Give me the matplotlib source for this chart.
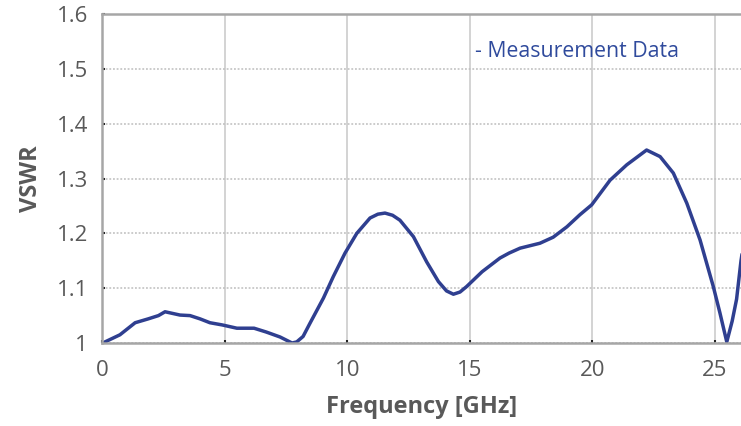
import numpy as np
import matplotlib
matplotlib.use("Agg")
import matplotlib.pyplot as plt

plt.rcParams['font.family'] = ['Open Sans', 'DejaVu Sans']

freq_ghz = [0.0, 0.12, 0.73, 1.35, 1.88, 2.3, 2.57, 3.18, 3.59, 4.0, 4.4, 4.9,
            5.5, 6.2, 6.7, 7.26, 7.75, 7.94, 8.2, 8.48, 9.03, 9.43, 9.91,
            10.39, 10.93, 11.25, 11.54, 11.85, 12.15, 12.7, 13.24, 13.72,
            14.05, 14.33, 14.6, 14.87, 15.5, 16.23, 16.6, 17.05, 17.86, 18.4,
            18.96, 19.49, 19.97, 20.72, 21.4, 21.94, 22.21, 22.76, 23.3, 23.85,
            24.39, 24.93, 25.2, 25.48, 25.7, 25.88, 26.06, 26.3]
vswr = [0.998, 1.002, 1.015, 1.037, 1.044, 1.050, 1.057, 1.051, 1.050, 1.044,
        1.037, 1.033, 1.027, 1.027, 1.020, 1.011, 1.000, 1.002, 1.012, 1.036,
        1.082, 1.121, 1.164, 1.200, 1.228, 1.235, 1.237, 1.233, 1.224, 1.194,
        1.148, 1.112, 1.095, 1.089, 1.093, 1.103, 1.130, 1.155, 1.164, 1.173,
        1.182, 1.193, 1.212, 1.234, 1.252, 1.297, 1.325, 1.343, 1.352, 1.340,
        1.310, 1.255, 1.188, 1.103, 1.055, 1.002, 1.040, 1.080, 1.150, 1.22]

x_ticks = [0, 5, 10, 15, 20, 25]
y_ticks = [1.0, 1.1, 1.2, 1.3, 1.4, 1.5, 1.6]
y_labels = ['1', '1.1', '1.2', '1.3', '1.4', '1.5', '1.6']

text_color = '#595959'
line_color = '#2f3f90'

fig = plt.figure(figsize=(7.41, 4.26), dpi=100)
ax = fig.add_axes([0.1377, 0.1948, 0.8623, 0.7722])

ax.plot(freq_ghz, vswr, color=line_color, linewidth=2.5,
        solid_joinstyle='round', solid_capstyle='round')

ax.set_xlim(0, 26.06)
ax.set_ylim(1.0, 1.6)
ax.set_xticks(x_ticks)
ax.set_yticks(y_ticks)
ax.set_yticklabels(y_labels)

ax.xaxis.grid(True, color='#c8c8c8', linewidth=1.1, linestyle='-')
ax.yaxis.grid(True, color='#bdbdbd', linewidth=1.1, linestyle=(0, (1.2, 1.2)))
ax.set_axisbelow(True)

for side in ['left', 'top', 'bottom']:
    ax.spines[side].set_color('#a6a6a6')
    ax.spines[side].set_linewidth(1.8)
ax.spines['right'].set_visible(False)

ax.tick_params(axis='both', direction='in', length=2.5, width=1.5,
               color='#222222', labelcolor=text_color, labelsize=16)
ax.tick_params(axis='y', pad=10)
ax.tick_params(axis='x', pad=12)

ax.set_xlabel('Frequency [GHz]', fontsize=17, fontweight='bold',
              color=text_color, labelpad=10)
ax.set_ylabel('VSWR', fontsize=17, fontweight='bold', color=text_color,
              labelpad=10)

ax.text(0.584, 0.885, '- Measurement Data', transform=ax.transAxes,
        fontsize=15.3, color='#2f4a9c', ha='left', va='center')

fig.savefig('out.png', dpi=100)
